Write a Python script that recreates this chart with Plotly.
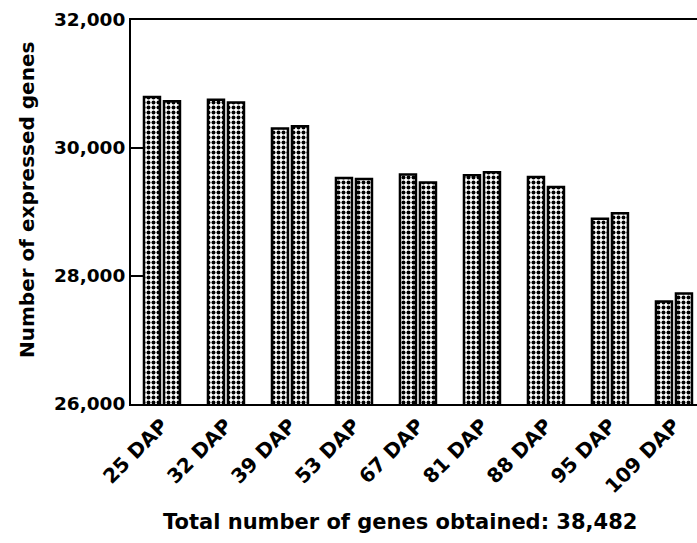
import plotly.graph_objects as go

categories = ["25 DAP", "32 DAP", "39 DAP", "53 DAP", "67 DAP", "81 DAP", "88 DAP", "95 DAP", "109 DAP"]
rep1 = [30795, 30755, 30305, 29530, 29585, 29575, 29545, 28895, 27600]
rep2 = [30730, 30710, 30340, 29515, 29460, 29620, 29390, 28980, 27725]
y_ticks = [26000, 28000, 30000, 32000]
y_ticklabels = ["26,000", "28,000", "30,000", "32,000"]

FONT = "DejaVu Sans, Liberation Sans, Arial, sans-serif"
pattern = dict(shape=".", fgcolor="black", bgcolor="white", size=5, solidity=0.5, fillmode="replace")

fig = go.Figure()
for vals in (rep1, rep2):
    fig.add_trace(go.Bar(
        x=list(range(len(categories))), y=vals,
        marker=dict(color="white", line=dict(color="black", width=2.5), pattern=pattern),
        showlegend=False,
    ))

fig.update_layout(
    width=697, height=543,
    margin=dict(l=131, r=0, t=20, b=139),
    barmode="group", bargap=0.375, bargroupgap=0.2,
    plot_bgcolor="white", paper_bgcolor="white",
    font=dict(family=FONT, color="black"),
)
fig.update_xaxes(
    range=[-0.484, 8.36], tickmode="array", tickvals=list(range(len(categories))),
    ticktext=[f"<b>{c}</b>" for c in categories], tickangle=-45,
    tickfont=dict(size=20, family=FONT, color="black"),
    showline=True, linecolor="black", linewidth=2, mirror=True,
    showgrid=False, ticks="", zeroline=False,
)
fig.update_yaxes(
    range=[26000, 32000], tickmode="array", tickvals=y_ticks,
    ticktext=[f"<b>{t}</b>" for t in y_ticklabels],
    tickfont=dict(size=18.5, family=FONT, color="black"),
    showline=True, linecolor="black", linewidth=2,
    ticks="inside", ticklen=12, tickwidth=2, tickcolor="black",
    showgrid=False, zeroline=False,
)
fig.add_annotation(
    text="<b>Total number of genes obtained: 38,482</b>",
    xref="paper", yref="paper", x=(400 - 131) / 566, y=-(522 - 404) / 384,
    xanchor="center", yanchor="middle", showarrow=False,
    font=dict(size=21, family=FONT, color="black"),
)
fig.add_annotation(
    text="<b>Number of expressed genes</b>",
    xref="paper", yref="paper", x=-(131 - 27) / 566, y=(404 - 200) / 384,
    xanchor="center", yanchor="middle", showarrow=False, textangle=-90,
    font=dict(size=20, family=FONT, color="black"),
)
fig.write_html("out.html")
